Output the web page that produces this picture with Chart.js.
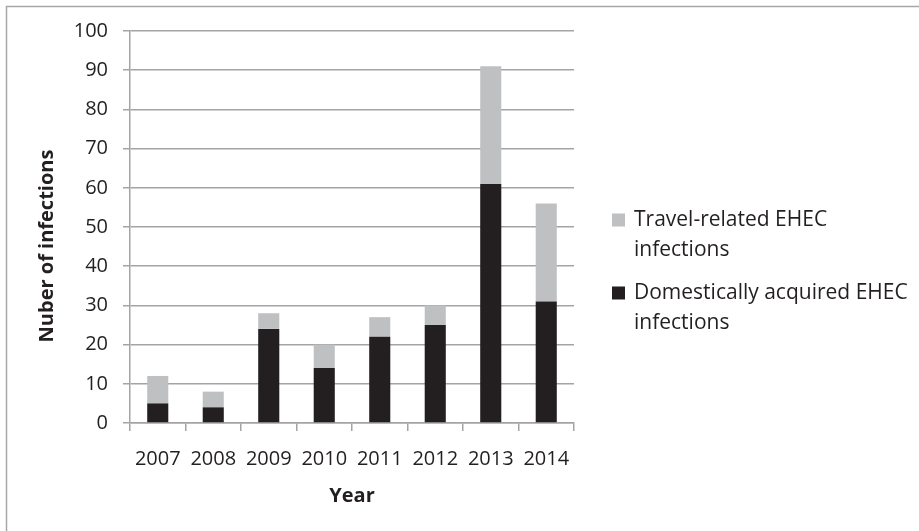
<!DOCTYPE html>
<html>
<head>
<meta charset="utf-8">
<script src="https://cdn.jsdelivr.net/npm/chart.js@4/dist/chart.umd.min.js"></script>
<style>
  html, body { margin: 0; padding: 0; background: #ffffff; }
  #wrap { width: 919px; height: 531px; position: relative; }
</style>
</head>
<body>
<div id="wrap"><canvas id="c" width="919" height="531"></canvas></div>
<script>
// EHEC infections per year, split by where they were acquired
const years = ['2007', '2008', '2009', '2010', '2011', '2012', '2013', '2014'];
const domestic = [5, 4, 24, 14, 22, 25, 61, 31];
const travel = [7, 4, 4, 6, 5, 5, 30, 25];
const yTicks = [0, 10, 20, 30, 40, 50, 60, 70, 80, 90, 100];
const seriesNames = ['Domestically acquired EHEC infections', 'Travel-related EHEC infections'];
const legendLines = {
  'Travel-related EHEC infections': ['Travel-related EHEC', 'infections'],
  'Domestically acquired EHEC infections': ['Domestically acquired EHEC', 'infections']
};
const yTitle = 'Nuber of infections';
const xTitle = 'Year';

const FONT = '"Open Sans", "Noto Sans", sans-serif';
const SIZE = 20;
const LEGEND_SIZE = 21;
const TEXT = '#231f20';
const GRID = '#a4a4a7';

// outer frame of the chart
const framePlugin = {
  id: 'frame',
  beforeDraw(chart) {
    const ctx = chart.ctx;
    ctx.save();
    ctx.fillStyle = '#ffffff';
    ctx.fillRect(0, 0, chart.width, chart.height);
    ctx.strokeStyle = '#a6a6aa';
    ctx.lineWidth = 1.5;
    ctx.strokeRect(6.5, 6.5, chart.width + 20, chart.height + 20);
    ctx.restore();
  }
};

// rotated y-axis title
const yTitlePlugin = {
  id: 'yTitle',
  afterDraw(chart, args, opts) {
    const ctx = chart.ctx;
    const a = chart.chartArea;
    ctx.save();
    ctx.translate(opts.x, (a.top + a.bottom) / 2 + opts.shift);
    ctx.rotate(-Math.PI / 2);
    ctx.font = 'bold ' + SIZE + 'px ' + FONT;
    ctx.fillStyle = TEXT;
    ctx.textAlign = 'center';
    ctx.textBaseline = 'middle';
    ctx.fillText(yTitle, 0, 0);
    ctx.restore();
  }
};

// legend on the right with wrapped labels, travel-related listed first
const sideLegend = {
  id: 'sideLegend',
  afterDraw(chart, args, opts) {
    const ctx = chart.ctx;
    const sets = chart.data.datasets.slice().reverse();
    ctx.save();
    ctx.font = LEGEND_SIZE + 'px ' + FONT;
    ctx.textBaseline = 'middle';
    let y = opts.top;
    sets.forEach(ds => {
      ctx.fillStyle = ds.backgroundColor;
      ctx.fillRect(opts.x, y - opts.box / 2, opts.box, opts.box);
      ctx.fillStyle = TEXT;
      const lines = legendLines[ds.label] || [ds.label];
      lines.forEach((ln, i) => ctx.fillText(ln, opts.textX, y + i * opts.lineGap));
      y += opts.itemGap;
    });
    ctx.restore();
  }
};

new Chart(document.getElementById('c'), {
  type: 'bar',
  data: {
    labels: years,
    datasets: [
      { label: seriesNames[0], data: domestic, backgroundColor: '#231f20', borderWidth: 0 },
      { label: seriesNames[1], data: travel, backgroundColor: '#bfc0c2', borderWidth: 0 }
    ]
  },
  options: {
    responsive: false,
    animation: false,
    devicePixelRatio: 1,
    layout: { padding: { left: 0, top: 31, right: 345, bottom: 0 } },
    datasets: { bar: { categoryPercentage: 1, barPercentage: 0.38 } },
    plugins: {
      legend: { display: false },
      tooltip: { enabled: false },
      yTitle: { x: 47, shift: 19 },
      sideLegend: { x: 612, box: 13, textX: 634, top: 220, lineGap: 30, itemGap: 73 }
    },
    scales: {
      x: {
        stacked: true,
        afterFit(scale) { scale.height = 108; },
        grid: {
          offset: true,
          drawOnChartArea: false,
          drawTicks: true,
          tickLength: 8,
          color: GRID,
          lineWidth: 1.5
        },
        border: { color: GRID, width: 1.5 },
        ticks: { color: TEXT, font: { family: FONT, size: SIZE }, padding: 16, maxRotation: 0 },
        title: {
          display: true,
          text: xTitle,
          color: TEXT,
          font: { family: FONT, size: SIZE, weight: 'bold' },
          padding: { top: 0, bottom: 23 }
        }
      },
      y: {
        stacked: true,
        min: 0,
        max: 100,
        afterFit(scale) { scale.width = 130; },
        afterBuildTicks(scale) { scale.ticks = yTicks.map(v => ({ value: v })); },
        grid: { color: GRID, lineWidth: 1.5, drawTicks: true, tickLength: 7 },
        border: { color: GRID, width: 1.5 },
        ticks: { color: TEXT, font: { family: FONT, size: SIZE }, padding: 15 }
      }
    }
  },
  plugins: [framePlugin, yTitlePlugin, sideLegend]
});
</script>
</body>
</html>
